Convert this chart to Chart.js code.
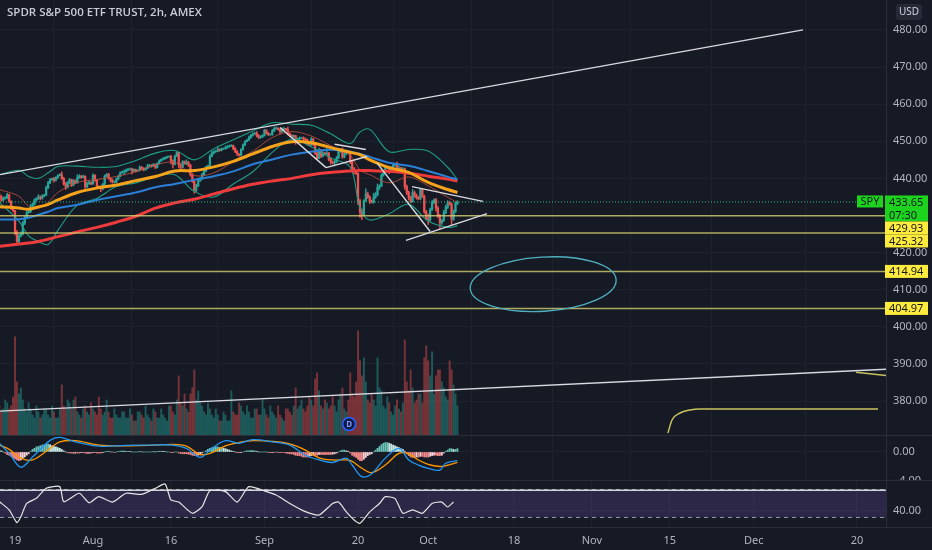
<!DOCTYPE html>
<html>
<head>
<meta charset="utf-8">
<title>SPY 2h</title>
<script src="https://cdn.jsdelivr.net/npm/chart.js@4.4.1/dist/chart.umd.min.js"></script>
<style>
  body { margin: 0; background: #161a25; }
  #wrap { position: relative; width: 932px; height: 550px; background: #161a25; overflow: hidden; }
  #wrap canvas { position: absolute; left: 0; }
</style>
</head>
<body>
<div id="wrap">
  <canvas id="priceChart" width="932" height="436" style="top:0;width:932px;height:436px"></canvas>
  <canvas id="macdChart" width="932" height="45" style="top:436px;width:932px;height:45px"></canvas>
  <canvas id="rsiChart" width="932" height="69" style="top:481px;width:932px;height:69px"></canvas>
</div>
<script>
// ---- time axis (bar index, 4 bars per trading day, first bar = Jul 15) ----
const tickIdx = [8, 48, 88, 136, 184, 220, 264, 304, 344, 387, 440];
const tickLabels = ["19", "Aug", "16", "Sep", "20", "Oct", "18", "Nov", "15", "Dec", "20"];

// ---- 2h candles ----
const firstOpen = 435.6;
const closes = [
  435.0,434.2,434.6,434.8, 435.6,433.8,432.0,431.3, 425.5,423.0,424.5,425.0, 428.0,429.5,430.8,431.1,
  432.5,433.0,434.2,434.6, 435.0,434.6,435.2,435.5, 437.5,438.8,439.6,439.9, 439.5,440.2,440.8,441.0,
  440.0,438.5,437.6,439.0, 439.6,438.2,439.4,438.8, 440.2,440.6,440.3,440.6, 437.8,438.6,438.9,438.5,
  440.8,439.5,437.8,437.6, 437.2,438.4,440.6,441.1, 440.0,439.5,439.0,439.0, 439.8,440.6,441.5,441.8,
  441.8,442.2,442.4,442.5, 442.0,442.3,442.0,442.1, 443.0,442.6,442.3,442.7, 443.2,443.5,443.3,443.8,
  443.0,444.0,444.7,445.1, 445.3,445.6,445.8,445.9, 444.8,443.8,446.0,447.0, 443.6,443.0,444.5,444.0,
  444.3,443.6,441.0,439.2, 436.8,438.0,439.5,439.9, 441.0,442.0,443.0,443.4, 446.0,446.8,447.2,447.3,
  447.8,447.6,448.0,448.0, 448.3,448.6,448.7,448.9, 448.0,447.2,446.5,446.3, 447.8,449.0,449.9,450.3,
  451.0,451.6,452.0,452.2, 451.5,451.0,451.2,451.6, 453.0,452.2,451.8,451.8, 452.8,453.4,453.5,453.2,
  452.6,453.2,453.4,453.1, 452.0,451.6,451.2,451.5, 449.8,450.6,450.9,450.9, 450.6,450.4,449.3,449.0,
  450.6,449.2,446.8,445.4, 447.6,446.0,446.8,446.6, 446.8,445.2,444.4,444.2, 444.5,445.5,447.2,447.9,
  445.8,446.6,447.3,447.2, 444.6,442.6,441.8,441.4, 434.0,431.0,430.2,434.0, 435.8,435.0,433.8,433.6,
  435.0,435.6,437.6,437.9, 440.8,441.8,442.8,443.2, 442.0,442.8,443.5,443.9, 442.2,442.8,442.6,442.6,
  437.8,436.2,434.8,433.7, 436.2,435.4,434.8,434.5, 437.0,435.2,431.0,429.1, 428.8,431.6,433.5,434.2,
  432.0,430.0,428.0,428.6, 430.8,432.2,433.4,433.1, 429.0,431.0,433.2,433.65
];
const highs = [
  436.2,435.4,435.0,435.1, 436.0,435.8,434.0,432.3, 431.4,426.0,425.0,425.6, 428.4,429.9,431.2,431.4,
  433.0,433.4,434.5,434.8, 435.6,435.3,435.6,435.7, 437.9,439.2,440.0,440.1, 440.3,440.5,441.0,441.3,
  441.8,440.3,438.9,439.2, 440.0,439.8,439.7,439.6, 441.0,441.0,440.8,440.9, 440.7,439.0,439.4,439.1,
  441.2,441.0,439.7,438.0, 438.0,438.7,440.9,441.3, 441.4,440.2,439.8,439.3, 440.1,440.9,441.8,442.0,
  442.3,442.5,442.7,442.8, 442.7,442.6,442.5,442.3, 443.4,443.2,442.9,442.9, 443.8,443.8,443.7,444.0,
  443.9,444.2,445.0,445.3, 445.6,445.8,446.0,446.1, 446.2,445.0,446.3,447.1, 447.0,444.0,444.8,444.7,
  445.0,444.6,443.8,441.3, 439.5,438.5,440.0,440.2, 441.4,442.3,443.3,443.6, 446.4,447.2,447.5,447.6,
  448.3,448.0,448.2,448.2, 448.7,448.9,449.0,449.1, 449.0,448.3,447.5,446.7, 448.0,449.3,450.2,450.5,
  451.4,451.9,452.3,452.4, 452.6,451.8,451.5,451.8, 453.2,453.1,452.4,452.0, 453.2,453.8,453.9,453.7,
  453.4,453.6,453.7,453.5, 453.8,452.3,451.8,451.7, 451.6,450.9,451.2,451.1, 451.2,450.9,450.6,449.5,
  451.0,450.8,449.4,447.0, 448.2,447.8,447.2,447.0, 448.0,447.0,445.6,444.7, 445.0,445.9,447.5,448.0,
  448.2,447.0,447.7,447.5, 447.4,444.8,443.0,442.0, 441.5,434.4,431.8,434.3, 437.2,436.3,435.3,434.2,
  436.0,436.2,438.5,438.3, 441.2,442.2,443.1,443.4, 443.3,443.2,443.8,444.0, 444.4,443.3,443.0,442.9,
  442.8,438.2,436.6,435.2, 437.0,436.6,435.8,435.1, 437.3,437.2,435.5,431.4, 430.4,432.0,434.0,434.5,
  434.6,432.4,430.3,429.0, 431.4,432.8,434.0,433.8, 433.4,431.5,433.6,434.0
];
const lows = [
  434.6,433.8,433.9,434.4, 434.5,433.5,431.6,431.0, 424.8,422.0,422.5,424.2, 424.8,427.5,429.2,430.6,
  430.8,432.0,432.8,434.0, 434.3,434.2,434.4,435.0, 435.4,437.2,438.6,439.5, 439.0,439.3,440.0,440.7,
  439.7,438.2,437.0,437.4, 438.6,437.8,438.0,438.6, 438.7,440.0,440.0,440.2, 437.0,437.5,438.4,438.3,
  438.4,439.2,437.4,437.4, 436.4,436.9,438.2,440.4, 439.8,439.0,438.7,438.8, 438.8,439.6,440.4,441.4,
  441.0,441.6,442.0,442.3, 441.2,441.8,441.7,441.9, 442.0,442.3,442.0,442.2, 442.6,443.0,443.0,443.2,
  442.6,442.8,443.9,444.6, 444.9,445.1,445.4,445.7, 443.9,442.8,443.6,445.9, 442.8,442.5,442.8,443.8,
  443.7,443.2,440.6,438.9, 436.0,436.4,437.8,439.2, 439.6,440.8,441.8,442.9, 443.3,445.8,446.6,447.0,
  447.2,447.3,447.4,447.8, 447.8,448.1,448.4,448.6, 447.7,446.9,446.2,446.0, 446.0,447.6,448.8,449.8,
  450.2,450.8,451.4,451.9, 451.2,450.7,450.8,451.0, 451.4,451.9,451.5,451.6, 451.6,452.6,453.2,453.0,
  452.0,452.4,453.0,452.9, 451.7,451.2,450.9,451.0, 449.2,449.5,450.4,450.7, 450.2,450.0,449.0,448.8,
  448.9,448.9,446.4,445.2, 445.3,445.6,445.8,446.3, 446.2,444.8,443.8,443.9, 443.4,444.2,445.3,447.0,
  445.4,445.5,446.4,446.9, 444.0,442.2,441.2,441.0, 433.0,429.5,428.9,430.0, 433.8,434.6,433.2,433.4,
  433.3,434.6,435.3,437.0, 437.8,440.6,441.6,442.6, 441.3,441.8,442.6,443.3, 441.8,442.0,442.2,442.3,
  437.0,435.6,434.2,433.4, 433.6,434.9,434.4,434.2, 434.3,434.9,430.6,428.8, 427.6,428.5,431.4,433.2,
  431.2,429.4,426.4,427.6, 428.4,430.5,431.9,432.8, 427.5,428.7,430.8,432.9
];
// volume, millions of shares per 2h bar
const volumes = [
  10,8,9,12, 11,9,10,13, 33,18,14,16, 12,9,8,11, 9,7,6,10, 8,6,7,9, 9,7,6,10, 8,6,6,9,
  17,10,9,12, 11,9,12,13, 8,7,6,9, 10,8,7,11, 9,8,7,13, 9,7,8,12, 8,6,6,9, 7,6,6,8,
  8,6,6,9, 7,5,5,8, 8,7,6,10, 7,6,5,9, 8,6,6,9, 7,6,5,10, 10,8,7,12, 20,11,10,14,
  9,8,14,16, 22,12,15,11, 10,8,7,11, 9,7,6,9, 7,5,5,8, 7,5,5,15, 8,7,7,11, 10,8,7,10,
  8,6,6,9, 9,7,7,12, 9,7,6,10, 8,7,6,10, 7,6,5,9, 9,8,7,10, 16,9,10,12, 9,8,10,13,
  12,10,19,21, 15,10,9,12, 11,9,10,13, 10,8,12,14, 16,9,8,12, 21,14,13,18, 35,25,20,26, 18,12,11,14,
  12,10,26,16, 15,10,9,13, 11,8,7,10, 12,9,8,11, 32,18,15,22, 16,11,12,14, 14,11,26,30, 25,20,28,14,
  20,22,22,18, 16,13,12,25, 22,17,14,10
];

// ---- overlay indicators, read at these bar indices ----
const indIdx = [0,10,15,20,25,30,40,50,60,70,80,90,100,110,120,130,140,150,160,170,180,185,190,200,210,220,230,235];
const emaFast = [432.4,432.0,431.7,432.3,433.0,434.2,436.2,437.4,438.2,439.4,440.5,442.0,442.1,443.1,444.6,446.6,448.6,449.9,449.6,448.3,447.0,446.4,445.0,442.9,441.6,438.9,437.0,436.2];
const emaMid = [428.9,429.0,429.4,430.2,431.0,432.0,432.9,434.2,435.2,436.2,437.6,438.5,439.6,440.6,441.9,443.8,445.1,446.4,447.2,447.7,447.2,446.6,445.8,444.2,443.4,442.0,440.4,439.8];
const emaSlow = [421.7,422.3,422.6,423.0,423.6,424.3,425.6,426.8,428.2,429.8,432.0,433.4,434.4,435.8,437.2,438.4,439.3,440.0,441.0,441.6,442.0,442.1,442.1,441.9,441.4,440.6,439.8,439.3];
const bbUpper = [441.0,442.2,440.5,440.0,441.5,443.2,443.3,443.0,443.2,444.8,446.8,447.5,445.0,448.0,450.4,452.8,455.0,454.6,454.3,452.0,449.4,452.5,453.2,447.2,447.8,447.4,443.0,439.7];
const bbBasis = [437.0,435.2,432.5,432.0,433.5,436.2,438.9,439.7,440.5,441.8,443.6,444.3,440.8,441.5,444.5,447.3,451.0,452.6,451.4,448.8,446.2,442.3,441.0,438.8,440.4,438.0,434.9,433.5];
const bbLower = [433.5,428.5,424.5,423.0,422.2,426.0,432.8,434.6,437.8,438.8,440.5,441.0,436.5,435.0,438.5,441.8,447.0,450.6,448.5,445.5,443.0,432.0,428.8,430.5,433.0,428.5,426.8,427.2];

// ---- MACD ----
const macdIdx = [0,5,11,17,26,31,39,51,65,77,89,96,103,109,116,123,130,140,149,157,164,171,178,181,186,191,198,205,210,215,220,226,229,235];
const macdLine = [1.2,-0.2,-2.1,-0.7,1.6,2.0,1.4,0.8,0.9,0.95,0.95,0.5,-0.75,0.5,1.55,1.2,1.7,1.4,0.95,-0.45,-1.1,-1.45,-0.85,-1.8,-3.4,-3.0,-0.85,0.5,-1.1,-1.8,-2.25,-2.5,-1.55,-1.2];
const signalLine = [0.95,0.35,-0.85,-1.1,0.5,1.4,1.55,0.95,0.85,0.9,1.05,0.8,-0.35,-0.1,0.85,1.3,1.55,1.45,1.1,0.25,-0.8,-1.1,-1.1,-1.3,-2.25,-2.85,-1.8,-0.2,-0.25,-1.1,-1.7,-2.0,-1.9,-1.45];
const macdHist = [
  0.25,0.15,0.0,-0.15, -0.35,-0.45,-0.6,-0.8, -0.95,-1.1,-1.2,-1.1, -0.85,-0.7,-0.45,-0.25,
  0.1,0.35,0.5,0.7, 0.75,0.85,0.95,1.0, 1.1,1.1,1.0,0.85, 0.75,0.7,0.6,0.5,
  0.35,0.15,0.0,-0.1, -0.15,-0.15,-0.2,-0.15, -0.15,-0.15,-0.1,-0.1, -0.15,-0.2,-0.15,-0.15,
  -0.1,-0.1,-0.15,-0.15, -0.15,-0.1,0.0,0.1, 0.1,0.0,0.0,-0.05, 0.0,0.05,0.1,0.15,
  0.1,0.1,0.1,0.05, 0.0,0.0,0.0,0.0, 0.05,0.0,0.0,0.0, 0.0,0.0,0.0,0.05,
  0.0,0.05,0.1,0.1, 0.05,0.05,0.0,0.0, -0.05,-0.1,0.0,0.0, -0.15,-0.2,-0.25,-0.25,
  -0.25,-0.3,-0.35,-0.45, -0.5,-0.5,-0.45,-0.35, -0.15,0.0,0.15,0.35, 0.5,0.6,0.7,0.7,
  0.7,0.6,0.6,0.5, 0.45,0.35,0.25,0.15, 0.05,0.0,-0.1,-0.1, -0.05,0.0,0.1,0.15,
  0.15,0.2,0.15,0.15, 0.1,0.0,0.0,0.0, 0.0,0.0,-0.05,-0.1, -0.05,-0.05,0.0,-0.05,
  -0.1,-0.1,-0.1,-0.15, -0.2,-0.25,-0.25,-0.35, -0.45,-0.5,-0.5,-0.6, -0.7,-0.7,-0.7,-0.6,
  -0.5,-0.45,-0.45,-0.45, -0.35,-0.35,-0.35,-0.35, -0.35,-0.35,-0.35,-0.3, -0.25,-0.15,0.0,0.15,
  0.25,0.25,0.15,0.1, -0.15,-0.45,-0.6,-0.75, -1.0,-1.2,-1.2,-1.0, -0.75,-0.5,-0.35,-0.25,
  0.0,0.25,0.5,0.75, 1.0,1.2,1.3,1.3, 1.2,1.1,0.95,0.85, 0.7,0.6,0.45,0.35,
  0.1,-0.25,-0.5,-0.7, -0.75,-0.75,-0.7,-0.7, -0.6,-0.6,-0.7,-0.7, -0.7,-0.6,-0.5,-0.45,
  -0.45,-0.5,-0.5,-0.45, -0.15,0.1,0.25,0.45, 0.45,0.35,0.35,0.45
];

// ---- RSI ----
const rsiIdx = [0,5,9,11,14,19,24,31,33,41,46,51,58,65,73,80,85,88,92,99,104,108,116,122,128,137,142,149,157,164,171,174,178,182,185,190,195,198,203,207,212,217,222,227,230,233];
const rsiValues = [52.6,40.7,22.6,31,50,57.4,71.7,74,52.6,64.6,51,59.7,52,64.6,63,71.7,77.9,55,52,36,45.5,68.3,66.9,52,74,67,62,50,38.3,33.6,50,52,38,26.4,21.7,38,50,59.7,57,36,41,36,50,52,45,52];
const rsiBands = [70, 30];
const rsiMark = 68.8;

// ---- drawings (bar index, price) ----
const levels = [429.93, 425.32, 414.94, 404.97];
const lastPrice = 433.65;
const countdown = "07:30";
const whiteLines = [
  [0.3, 441.0, 412.3, 480.0],
  [0.3, 377.3, 454.9, 388.6],
  [144.0, 453.7, 167.6, 442.9],
  [167.6, 442.9, 188.6, 445.9],
  [172.0, 449.2, 188.0, 447.8],
  [193.7, 444.2, 221.0, 425.7],
  [211.7, 437.8, 248.1, 433.8],
  [208.6, 423.3, 250.2, 430.5]
];
const yellowCurve = [[343.0, 371.4], [345.1, 374.9], [349.2, 376.8], [354.3, 377.6], [359.5, 377.85], [450.8, 377.85]];
const yellowShort = [[439.5, 387.8], [454.9, 386.9]];
const ellipse = [279, 411.5, 37.5, 7.3]; // centre bar, centre price, radius in bars, radius in price
const dividendBar = 179.4;

// ---- layout / style ----
const X_MIN = 0.3, X_MAX = 454.9;
const AXIS_W = 46;
const GRID = "#1e222d";
const SEP = "#2a2e39";
const UP = "#26a69a", DOWN = "#ef5350";

Chart.defaults.font.family = "'Noto Sans', 'DejaVu Sans', sans-serif";
Chart.defaults.font.size = 11;
Chart.defaults.color = "#b2b5be";
Chart.defaults.animation = false;

const opens = closes.map((c, i) => (i === 0 ? firstOpen : closes[i - 1]));
const isUp = closes.map((c, i) => c >= opens[i]);

function xAxis(showLabels) {
  return {
    type: "linear",
    min: X_MIN,
    max: X_MAX,
    offset: false,
    grid: { color: GRID, drawTicks: false },
    border: { display: false },
    afterBuildTicks: (s) => { s.ticks = tickIdx.map((v) => ({ value: v })); },
    ticks: { display: showLabels, padding: 7, maxRotation: 0, autoSkip: false, callback: (v, i) => tickLabels[i] },
    afterFit: (s) => {
      s.height = showLabels ? 23 : 0;
      s.paddingLeft = 0;
      s.paddingRight = 0;
    },
  };
}

function yAxis(min, max, ticks, fmt) {
  return {
    position: "right",
    min: min,
    max: max,
    grid: { color: GRID, drawTicks: false },
    border: { display: true, color: SEP },
    afterBuildTicks: (s) => { s.ticks = ticks.map((v) => ({ value: v })); },
    ticks: { padding: 7, crossAlign: "near", callback: fmt },
    afterFit: (s) => {
      s.width = AXIS_W;
      s.paddingTop = 0;
      s.paddingBottom = 0;
    },
  };
}

function line(xs, ys, color, width, order, extra) {
  return Object.assign({
    type: "line",
    data: xs.map((v, k) => ({ x: v, y: ys[k] })),
    borderColor: color,
    borderWidth: width,
    pointRadius: 0,
    fill: false,
    tension: 0.35,
    order: order,
  }, extra || {});
}

function seg(points, color, width, order, extra) {
  return line(points.map((p) => p[0]), points.map((p) => p[1]), color, width, order, Object.assign({ tension: 0 }, extra || {}));
}

const baseOptions = {
  responsive: false,
  maintainAspectRatio: false,
  events: [],
  layout: { padding: 0 },
  plugins: { legend: { display: false }, tooltip: { enabled: false } },
};

// ---------- price pane ----------
const priceOverlay = {
  id: "priceOverlay",
  afterDraw(chart) {
    const ctx = chart.ctx;
    const x = chart.scales.x, y = chart.scales.y;
    const area = chart.chartArea;
    ctx.save();

    // hand drawn ellipse
    const cx = x.getPixelForValue(ellipse[0]);
    const cy = y.getPixelForValue(ellipse[1]);
    const rx = x.getPixelForValue(ellipse[0] + ellipse[2]) - cx;
    const ry = cy - y.getPixelForValue(ellipse[1] + ellipse[3]);
    ctx.strokeStyle = "#4fb0bf";
    ctx.lineWidth = 1.3;
    ctx.beginPath();
    ctx.ellipse(cx, cy, rx, ry, -0.06, 0, Math.PI * 2);
    ctx.stroke();

    // dividend marker
    const dx = x.getPixelForValue(dividendBar);
    const dy = area.bottom - 12;
    ctx.beginPath();
    ctx.arc(dx, dy, 6.5, 0, Math.PI * 2);
    ctx.fillStyle = "#101a44";
    ctx.fill();
    ctx.strokeStyle = "#2962ff";
    ctx.lineWidth = 1.6;
    ctx.stroke();
    ctx.fillStyle = "#7f9cff";
    ctx.font = "bold 8px 'Noto Sans'";
    ctx.textAlign = "center";
    ctx.textBaseline = "middle";
    ctx.fillText("D", dx, dy + 0.5);

    // title
    ctx.textAlign = "left";
    ctx.textBaseline = "middle";
    ctx.fillStyle = "#c9ccd4";
    ctx.font = "600 11.5px 'Open Sans'";
    ctx.fillText("SPDR S&P 500 ETF TRUST, 2h, AMEX", 7, 13);

    // currency box
    ctx.fillStyle = "#262a36";
    ctx.beginPath();
    ctx.roundRect(896, 4, 26, 16, 3);
    ctx.fill();
    ctx.fillStyle = "#d1d4dc";
    ctx.font = "10px 'Noto Sans'";
    ctx.textAlign = "center";
    ctx.fillText("USD", 909, 12.5);

    // price labels on the axis, pushed down when they overlap
    const labelX = area.right - 1;
    const boxW = 43;
    const items = [{ v: lastPrice, h: 26, bg: "#1ed31e", lines: [lastPrice.toFixed(2), countdown] }]
      .concat(levels.map((v) => ({ v: v, h: 13, bg: "#ffeb3b", lines: [v.toFixed(2)] })));
    items.sort((a, b) => b.v - a.v);
    let prevBottom = -1;
    ctx.font = "11px 'Noto Sans'";
    ctx.textAlign = "left";
    items.forEach((it) => {
      let top = y.getPixelForValue(it.v) - 6.5;
      if (top < prevBottom) top = prevBottom;
      ctx.fillStyle = it.bg;
      ctx.fillRect(labelX, top, boxW, it.h);
      ctx.fillStyle = "#131722";
      it.lines.forEach((t, k) => ctx.fillText(t, labelX + 4, top + 7 + k * 13));
      prevBottom = top + it.h;
    });

    // symbol tag next to the last price
    const ly = y.getPixelForValue(lastPrice) - 6.5;
    ctx.fillStyle = "#1ed31e";
    ctx.fillRect(area.right - 29, ly, 26, 12);
    ctx.fillStyle = "#131722";
    ctx.textAlign = "center";
    ctx.fillText("SPY", area.right - 16, ly + 6.5);

    // pane separator
    ctx.strokeStyle = SEP;
    ctx.lineWidth = 1;
    ctx.beginPath();
    ctx.moveTo(0, chart.height - 0.5);
    ctx.lineTo(chart.width, chart.height - 0.5);
    ctx.stroke();
    ctx.restore();
  },
};

const priceDatasets = [
  {
    type: "bar",
    data: volumes.map((v, i) => ({ x: i, y: v })),
    backgroundColor: isUp.map((u) => (u ? "rgba(38,166,154,0.45)" : "rgba(239,83,80,0.45)")),
    barThickness: 1.3,
    grouped: false,
    yAxisID: "vol",
    order: 20,
  },
  {
    type: "bar",
    data: highs.map((h, i) => ({ x: i, y: [lows[i], h] })),
    backgroundColor: isUp.map((u) => (u ? UP : DOWN)),
    barThickness: 0.8,
    grouped: false,
    order: 12,
  },
  {
    type: "bar",
    data: closes.map((c, i) => ({ x: i, y: [opens[i], c] })),
    backgroundColor: isUp.map((u) => (u ? UP : DOWN)),
    barThickness: 1.6,
    grouped: false,
    order: 11,
  },
  line(indIdx, bbUpper, "#1f9e86", 1.1, 9),
  line(indIdx, bbLower, "#1f9e86", 1.1, 9),
  line(indIdx, bbBasis, "rgba(190,80,62,0.85)", 1, 9),
  line(indIdx, emaSlow, "#ee3b3b", 3, 8),
  line(indIdx, emaMid, "#2a7fd8", 2, 7),
  line(indIdx, emaFast, "#f7a21b", 3, 6),
  seg([[X_MIN, lastPrice], [X_MAX, lastPrice]], "#26c281", 1, 5, { borderDash: [1, 2] }),
];
levels.forEach((v) => priceDatasets.push(seg([[X_MIN, v], [X_MAX, v]], "rgba(214,206,112,0.8)", 1.5, 4)));
whiteLines.forEach((s) => priceDatasets.push(seg([[s[0], s[1]], [s[2], s[3]]], "#d8dae0", 1.4, 2)));
priceDatasets.push(seg(yellowCurve, "#c9c25e", 1.5, 3, { cubicInterpolationMode: "monotone" }));
priceDatasets.push(seg(yellowShort, "#c9c25e", 1.5, 3));

new Chart(document.getElementById("priceChart"), {
  type: "bar",
  data: { datasets: priceDatasets },
  options: Object.assign({}, baseOptions, {
    scales: {
      x: xAxis(false),
      y: yAxis(370.6, 488.06, [380, 390, 400, 410, 420, 430, 440, 450, 460, 470, 480], (v) => Number(v).toFixed(2)),
      vol: { display: false, min: 0, max: 145, grid: { display: false } },
    },
  }),
  plugins: [priceOverlay],
});

// ---------- MACD pane ----------
const histColors = macdHist.map((h, i) => {
  const prev = i === 0 ? h : macdHist[i - 1];
  if (h >= 0) return h >= prev ? "#6cc4b8" : "#c5e8e3";
  return h <= prev ? "#f48a8a" : "#f6d3d8";
});

const sepBottom = {
  id: "sepBottom",
  afterDraw(chart) {
    const ctx = chart.ctx;
    ctx.save();
    ctx.strokeStyle = SEP;
    ctx.lineWidth = 1;
    ctx.beginPath();
    ctx.moveTo(0, chart.height - 0.5);
    ctx.lineTo(chart.width, chart.height - 0.5);
    ctx.stroke();
    ctx.restore();
  },
};

new Chart(document.getElementById("macdChart"), {
  type: "bar",
  data: {
    datasets: [
      {
        type: "bar",
        data: macdHist.map((h, i) => ({ x: i, y: h })),
        backgroundColor: histColors,
        barThickness: 1.2,
        grouped: false,
        order: 5,
      },
      line(macdIdx, signalLine, "#ff9800", 1.3, 2),
      line(macdIdx, macdLine, "#2196f3", 1.3, 1),
    ],
  },
  options: Object.assign({}, baseOptions, {
    scales: {
      x: xAxis(false),
      y: yAxis(-4.0, 2.2, [0, -4], (v) => (v < 0 ? "\u2212" + Math.abs(v).toFixed(2) : Number(v).toFixed(2))),
    },
  }),
  plugins: [sepBottom],
});

// ---------- RSI pane ----------
const rsiBottom = {
  id: "rsiBottom",
  afterDraw(chart) {
    const ctx = chart.ctx;
    const area = chart.chartArea;
    ctx.save();
    ctx.strokeStyle = SEP;
    ctx.lineWidth = 1;
    ctx.beginPath();
    ctx.moveTo(0, area.bottom + 0.5);
    ctx.lineTo(chart.width, area.bottom + 0.5);
    ctx.stroke();
    ctx.restore();
  },
};

new Chart(document.getElementById("rsiChart"), {
  type: "line",
  data: {
    datasets: [
      seg([[X_MIN, rsiBands[0]], [X_MAX, rsiBands[0]]], "#9598a1", 1, 5, { borderDash: [4, 4] }),
      seg([[X_MIN, rsiBands[1]], [X_MAX, rsiBands[1]]], "#9598a1", 1, 5, {
        borderDash: [4, 4],
        fill: "-1",
        backgroundColor: "rgba(126,87,194,0.22)",
      }),
      seg([[X_MIN, rsiMark], [X_MAX, rsiMark]], "#d1d4dc", 1.4, 3),
      line(rsiIdx, rsiValues, "#e6e6e6", 1.2, 1, { tension: 0.2 }),
    ],
  },
  options: Object.assign({}, baseOptions, {
    scales: {
      x: xAxis(true),
      y: yAxis(16.4, 82.1, [40], (v) => Number(v).toFixed(2)),
    },
  }),
  plugins: [rsiBottom],
});
</script>
</body>
</html>
